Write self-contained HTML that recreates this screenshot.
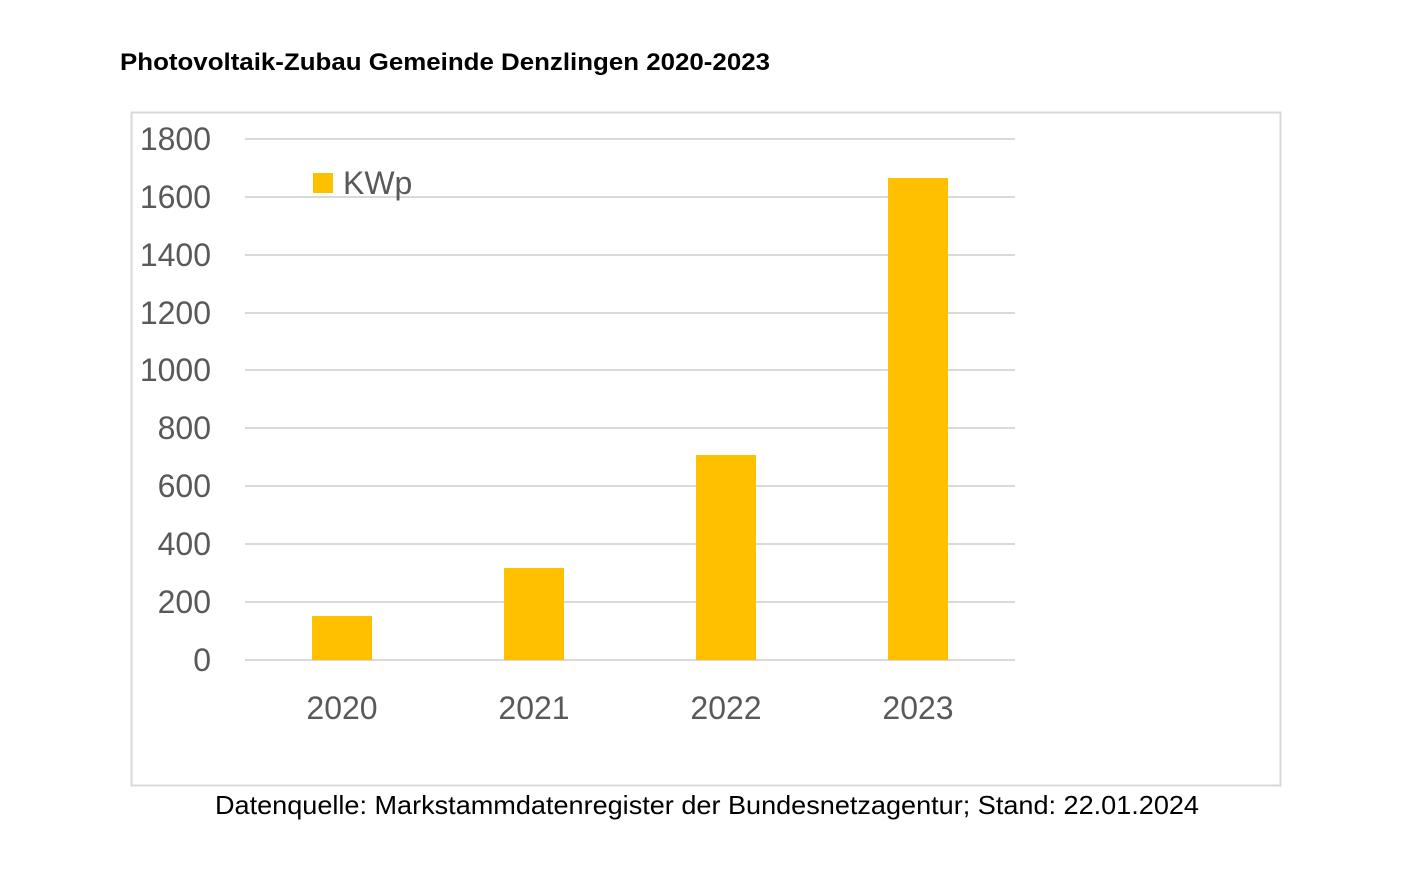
<!DOCTYPE html>
<html><head><meta charset="utf-8"><style>
html,body{margin:0;padding:0;background:#fff;}
svg{display:block;}
</style></head><body>
<svg width="1427" height="885" xmlns="http://www.w3.org/2000/svg" font-family="'Liberation Sans', sans-serif">
<rect width="1427" height="885" fill="#fff"/>
<text x="120" y="70" font-size="24" font-weight="bold" fill="#000" textLength="650" lengthAdjust="spacingAndGlyphs">Photovoltaik-Zubau Gemeinde Denzlingen 2020-2023</text>
<rect x="131.5" y="112.5" width="1149" height="673" fill="#fff" stroke="#d9d9d9" stroke-width="2"/>
<g stroke="#d9d9d9" stroke-width="2">
<line x1="245" x2="1015" y1="139" y2="139"/>
<line x1="245" x2="1015" y1="197" y2="197"/>
<line x1="245" x2="1015" y1="255" y2="255"/>
<line x1="245" x2="1015" y1="313" y2="313"/>
<line x1="245" x2="1015" y1="370" y2="370"/>
<line x1="245" x2="1015" y1="428" y2="428"/>
<line x1="245" x2="1015" y1="486" y2="486"/>
<line x1="245" x2="1015" y1="544" y2="544"/>
<line x1="245" x2="1015" y1="602" y2="602"/>
<line x1="245" x2="1015" y1="660" y2="660"/>
</g>
<g font-size="32" fill="#595959" text-anchor="end">
<text x="211" y="150">1800</text>
<text x="211" y="208">1600</text>
<text x="211" y="266">1400</text>
<text x="211" y="324">1200</text>
<text x="211" y="381">1000</text>
<text x="211" y="439">800</text>
<text x="211" y="497">600</text>
<text x="211" y="555">400</text>
<text x="211" y="613">200</text>
<text x="211" y="671">0</text>
</g>
<g fill="#ffc000">
<rect x="312" y="616" width="60" height="44"/>
<rect x="504" y="568" width="60" height="92"/>
<rect x="696" y="455" width="60" height="205"/>
<rect x="888" y="178" width="60" height="482"/>
<rect x="313" y="173" width="20" height="20"/>
</g>
<text x="343" y="194" font-size="32" fill="#595959">KWp</text>
<g font-size="32" fill="#595959" text-anchor="middle">
<text x="342" y="719">2020</text>
<text x="534" y="719">2021</text>
<text x="726" y="719">2022</text>
<text x="918" y="719">2023</text>
</g>
<text x="215" y="814" font-size="26" fill="#000" textLength="984" lengthAdjust="spacingAndGlyphs">Datenquelle: Markstammdatenregister der Bundesnetzagentur; Stand: 22.01.2024</text>
</svg>
</body></html>
